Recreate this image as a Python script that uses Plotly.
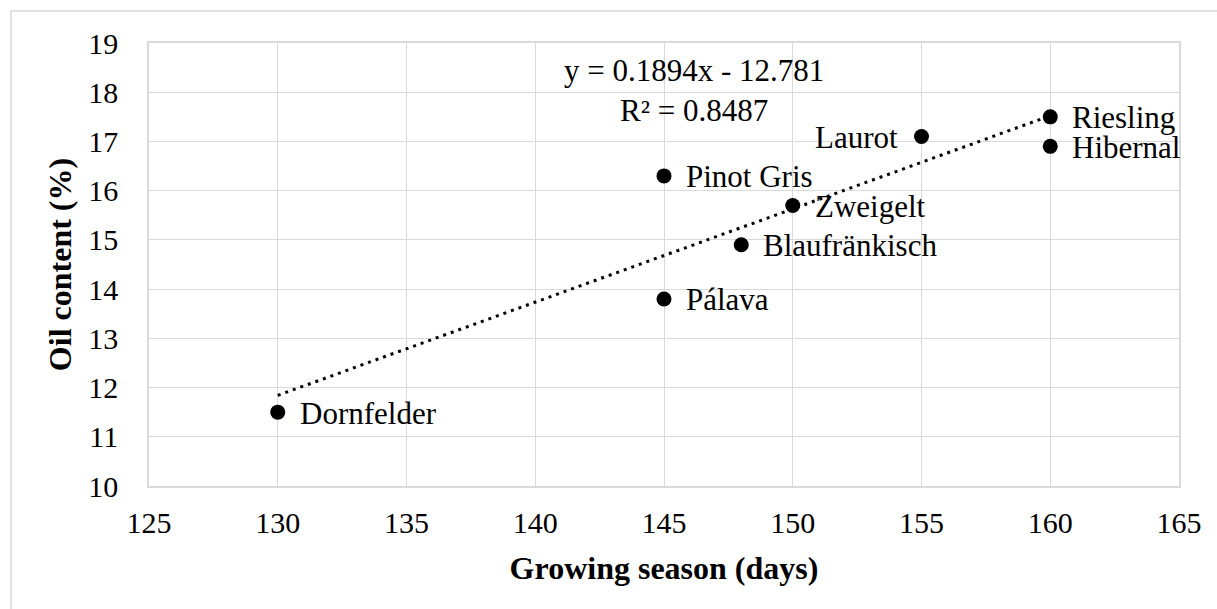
import plotly.graph_objects as go

# Grape varieties: growing season length vs. seed oil content
varieties = ["Dornfelder", "Pinot Gris", "Pálava", "Blaufränkisch", "Zweigelt",
             "Laurot", "Riesling", "Hibernal"]
season_days = [130, 145, 145, 148, 150, 155, 160, 160]
oil_content = [11.5, 16.3, 13.8, 14.9, 15.7, 17.1, 17.5, 16.9]
label_side = ["right", "right", "right", "right", "right", "left", "right", "right"]

# Linear trend (least squares) as reported on the chart
slope = 0.1894
intercept = -12.781
r_squared = 0.8487

x_ticks = [125, 130, 135, 140, 145, 150, 155, 160, 165]
y_ticks = [10, 11, 12, 13, 14, 15, 16, 17, 18, 19]

FONT = "'Liberation Serif', 'Times New Roman', serif"
GRID = "#d9d9d9"

trend_x = [min(season_days), max(season_days)]
trend_y = [slope * v + intercept for v in trend_x]

fig = go.Figure()
fig.add_trace(go.Scatter(
    x=trend_x, y=trend_y, mode="lines",
    line=dict(color="black", width=3, dash="3px,5px"),
    hoverinfo="skip", showlegend=False,
))
fig.add_trace(go.Scatter(
    x=season_days, y=oil_content, mode="markers",
    marker=dict(color="black", size=15),
    text=varieties, showlegend=False,
))

for name, xv, yv, side in zip(varieties, season_days, oil_content, label_side):
    fig.add_annotation(
        x=xv, y=yv, text=name, showarrow=False,
        xanchor="left" if side == "right" else "right",
        xshift=20 if side == "right" else -22, yshift=-1,
        font=dict(family=FONT, size=31, color="black"),
    )

sign = "-" if intercept < 0 else "+"
fig.add_annotation(
    x=146.17, y=18.03, showarrow=False, xanchor="center", yanchor="middle",
    text=f"y = {slope:.4f}x {sign} {abs(intercept):.3f}<br>R² = {r_squared:.4f}",
    font=dict(family=FONT, size=31, color="black"),
)

# Outer chart border
fig.add_shape(type="rect", xref="paper", yref="paper",
              x0=(11 - 149) / 1030, x1=2, y0=-2, y1=(486 - 11) / 443,
              line=dict(color=GRID, width=1.5), fillcolor="rgba(0,0,0,0)", layer="below")

fig.update_xaxes(
    range=[125, 165], tickvals=x_ticks, ticktext=[str(v) for v in x_ticks],
    showgrid=True, gridcolor=GRID, gridwidth=1.3,
    showline=True, linecolor=GRID, linewidth=1.5, mirror=True,
    zeroline=False, ticks="", ticklabelstandoff=9,
    tickfont=dict(family=FONT, size=30, color="black"),
    title=dict(text="<b>Growing season (days)</b>", standoff=19,
               font=dict(family=FONT, size=32, color="black")),
)
fig.update_yaxes(
    range=[10, 19], tickvals=y_ticks, ticktext=[str(v) for v in y_ticks],
    showgrid=True, gridcolor=GRID, gridwidth=1.3,
    showline=True, linecolor=GRID, linewidth=1.5, mirror=True,
    zeroline=False, ticks="", ticklabelstandoff=23,
    tickfont=dict(family=FONT, size=30, color="black"),
    title=dict(text="<b>Oil content (%)</b>", standoff=7,
               font=dict(family=FONT, size=32, color="black")),
)

fig.update_layout(
    width=1217, height=609,
    margin=dict(l=149, r=38, t=43, b=123, autoexpand=False),
    paper_bgcolor="white", plot_bgcolor="white",
    font=dict(family=FONT, color="black"),
    showlegend=False,
)

fig.write_html("out.html")
